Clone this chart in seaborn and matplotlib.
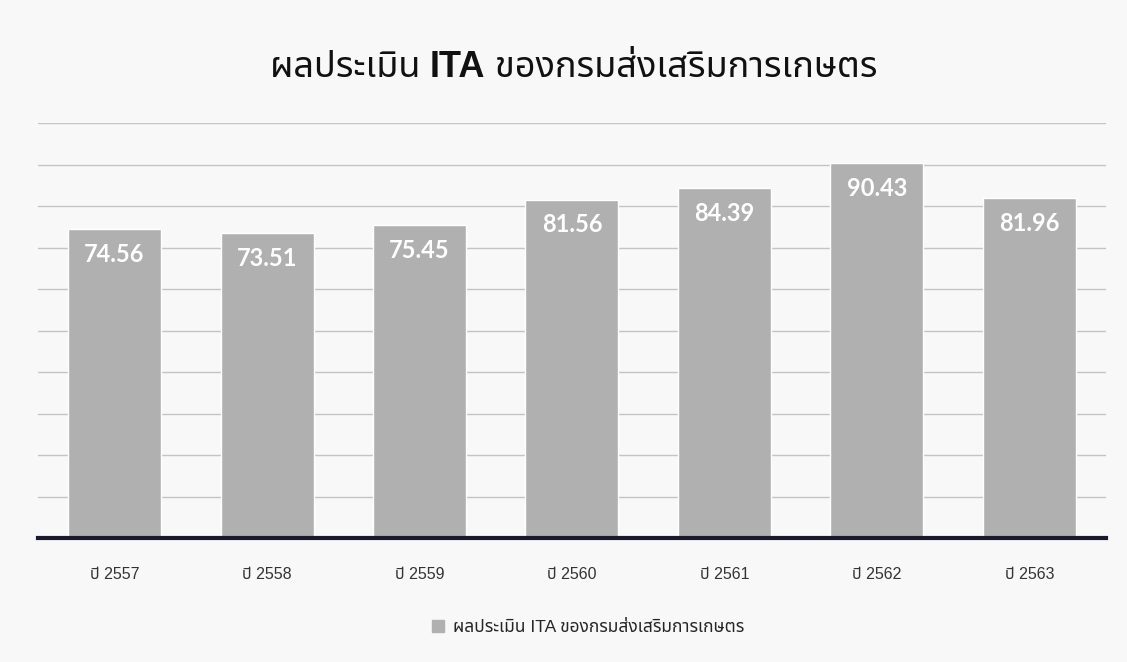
import matplotlib
matplotlib.use("Agg")
import matplotlib.pyplot as plt
import seaborn as sns
import pandas as pd
from matplotlib.patches import Patch

years = ['ปี 2557', 'ปี 2558', 'ปี 2559', 'ปี 2560', 'ปี 2561', 'ปี 2562', 'ปี 2563']
scores = [74.56, 73.51, 75.45, 81.56, 84.39, 90.43, 81.96]
series_name = 'ผลประเมิน ITA ของกรมส่งเสริมการเกษตร'
title_parts = ['ผลประเมิน ', 'ITA', ' ของกรมส่งเสริมการเกษตร']

df = pd.DataFrame({'year': years, 'score': scores})

sns.set_style('white')
fonts = ['Liberation Sans', 'Noto Sans Thai', 'DejaVu Sans']
plt.rcParams['font.family'] = fonts

fig = plt.figure(figsize=(11.27, 6.62), dpi=100, facecolor='#f8f8f8')
ax = fig.add_axes([0.034, 0.187, 0.947, 0.627])
ax.set_facecolor('#f8f8f8')

sns.barplot(data=df, x='year', y='score', color='#b0b0b0', width=0.61,
            saturation=1, ax=ax, zorder=2)

ax.set_ylim(0, 100)
ax.set_yticks(range(0, 101, 10))
ax.set_yticklabels([])
ax.yaxis.grid(True, color='#c4c4c4', linewidth=1, zorder=0)
ax.tick_params(axis='both', length=0)
ax.tick_params(axis='x', labelsize=11.5, pad=21, colors='#333333')
ax.set_xlabel('')
ax.set_ylabel('')
for s in ['top', 'right', 'left']:
    ax.spines[s].set_visible(False)
ax.spines['bottom'].set_color('#1a1a2e')
ax.spines['bottom'].set_linewidth(3)

for i, v in enumerate(scores):
    ax.text(i, v - 6.1, f'{v:.2f}', ha='center', va='center', color='white',
            fontsize=17, fontweight='bold', family=['Lato', 'DejaVu Sans'])

# title in three pieces so that only "ITA" is bold
renderer = fig.canvas.get_renderer()
pieces = []
for k, part in enumerate(title_parts):
    t = fig.text(0, 0.898, part, ha='left', va='center', fontsize=26,
                 fontweight='bold' if k == 1 else 'normal', color='#111111')
    pieces.append(t)
widths = [p.get_window_extent(renderer).width / fig.bbox.width for p in pieces]
x = 0.509 - sum(widths) / 2
for p, w in zip(pieces, widths):
    p.set_x(x)
    x += w

fig.legend(handles=[Patch(color='#b0b0b0', label=series_name)], loc='center',
           bbox_to_anchor=(0.522, 0.052), frameon=False, fontsize=12.5,
           handlelength=0.7, handleheight=0.7, handletextpad=0.5)

fig.savefig('out.png', dpi=100, facecolor=fig.get_facecolor())
